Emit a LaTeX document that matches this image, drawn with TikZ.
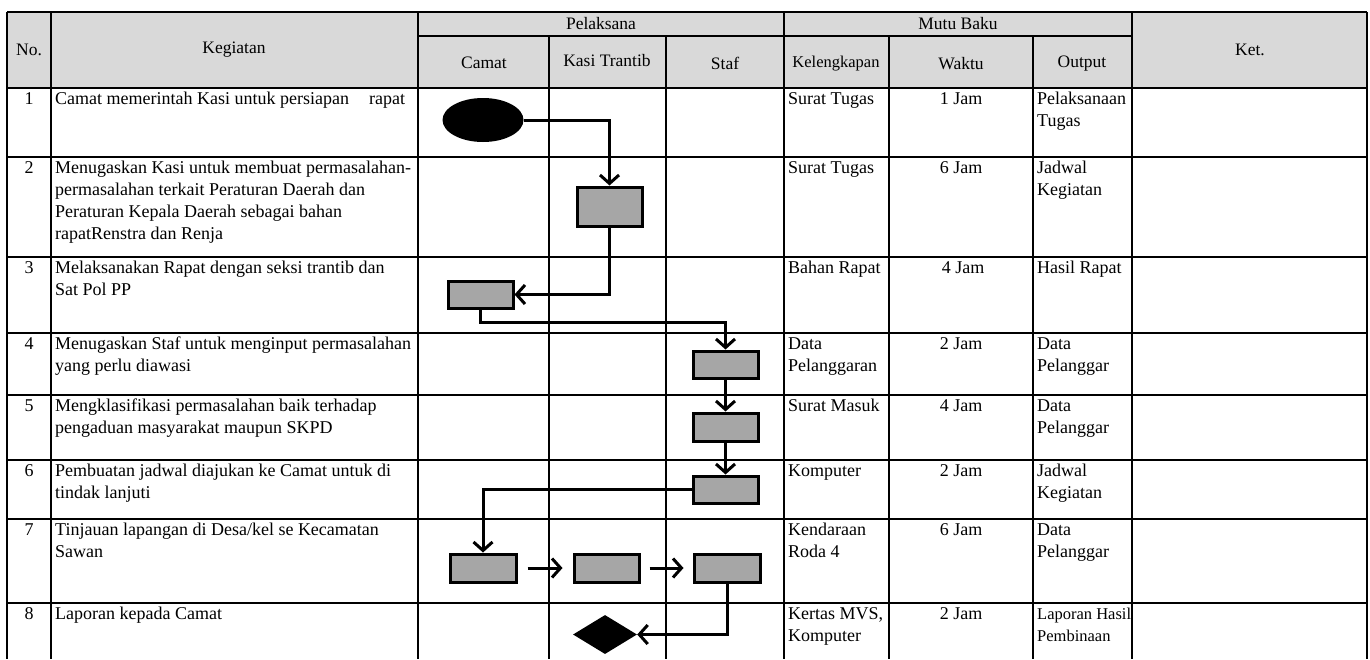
\documentclass[tikz,border=0pt]{standalone}
\usepackage{fontspec}
\setmainfont{Liberation Serif}
\usetikzlibrary{arrows.meta,shapes.geometric}
\tikzset{
  grid/.style={line width=2.1pt},
  cell/.style={inner sep=0pt, anchor=north west, align=left, font=\fontsize{18}{22}\selectfont},
  ccell/.style={inner sep=0pt, anchor=north, align=center, font=\fontsize{18}{22}\selectfont},
  hcell/.style={inner sep=0pt, align=center, font=\fontsize{17.5}{22}\selectfont},
  procbox/.style={draw=black, line width=3pt, fill=boxgray, minimum width=65pt, minimum height=28pt, inner sep=0pt},
  flow/.style={line width=3pt, -{Straight Barb[length=8.5pt,width=19pt]}},
}
\definecolor{boxgray}{HTML}{A6A6A6}
\definecolor{headgray}{HTML}{D9D9D9}
\begin{document}
\begin{tikzpicture}[x=1pt,y=-1pt]
\useasboundingbox (0,0) rectangle (1370,659);
% header background
\fill[headgray] (7,12) rectangle (1367,88);
% grid
\draw[grid] (7,12) -- (1367,12);
\draw[grid] (418,36) -- (1132,36);
\foreach \yy in {88,157,257,333,395,460,519,603} {\draw[grid] (7,\yy) -- (1367,\yy);}
\foreach \xx in {7,51,418,784,1132,1367} {\draw[grid] (\xx,12) -- (\xx,659);}
\foreach \xx in {549,666,889,1033} {\draw[grid] (\xx,36) -- (\xx,659);}
% header texts
\node[hcell] (hno) at (29,50) {No.};
\node[hcell] (hkeg) at (234,50) {Kegiatan};
\node[hcell] (hpel) at (601,24) {Pelaksana};
\node[hcell] (hcam) at (484,63) {Camat};
\node[hcell] (hkas) at (607,61) {Kasi Trantib};
\node[hcell] (hsta) at (725,63) {Staf};
\node[hcell] (hmutu) at (958,24) {Mutu Baku};
\node[hcell, font=\fontsize{16.5}{22}\selectfont] (hkel) at (836,64) {Kelengkapan};
\node[hcell] (hwak) at (961,64) {Waktu};
\node[hcell] (hout) at (1082,64) {Output};
\node[hcell] (hket) at (1250,50) {Ket.};
% rows
\node[ccell] (n1) at (29,89) {\strut 1};
\node[cell] (k1) at (55,89) {\strut Camat memerintah Kasi untuk persiapan\hspace{20pt}rapat};
\node[cell] (l1) at (788,89) {\strut Surat Tugas};
\node[ccell] (w1) at (961,89) {\strut 1 Jam};
\node[cell] (o1) at (1037,89) {\strut Pelaksanaan\\Tugas};

\node[ccell] (n2) at (29,158) {\strut 2};
\node[cell] (k2) at (55,158) {\strut Menugaskan Kasi untuk membuat permasalahan-\\permasalahan terkait Peraturan Daerah dan\\Peraturan Kepala Daerah sebagai bahan\\rapatRenstra dan Renja};
\node[cell] (l2) at (788,158) {\strut Surat Tugas};
\node[ccell] (w2) at (961,158) {\strut 6 Jam};
\node[cell] (o2) at (1037,158) {\strut Jadwal\\Kegiatan};

\node[ccell] (n3) at (29,258) {\strut 3};
\node[cell] (k3) at (55,258) {\strut Melaksanakan Rapat dengan seksi trantib dan\\Sat Pol PP};
\node[cell] (l3) at (788,258) {\strut Bahan Rapat};
\node[ccell] (w3) at (963,258) {\strut 4 Jam};
\node[cell] (o3) at (1037,258) {\strut Hasil Rapat};

\node[ccell] (n4) at (29,334) {\strut 4};
\node[cell] (k4) at (55,334) {\strut Menugaskan Staf untuk menginput permasalahan\\yang perlu diawasi};
\node[cell] (l4) at (788,334) {\strut Data\\Pelanggaran};
\node[ccell] (w4) at (961,334) {\strut 2 Jam};
\node[cell] (o4) at (1037,334) {\strut Data\\Pelanggar};

\node[ccell] (n5) at (29,396) {\strut 5};
\node[cell] (k5) at (55,396) {\strut Mengklasifikasi permasalahan baik terhadap\\pengaduan masyarakat maupun SKPD};
\node[cell] (l5) at (788,396) {\strut Surat Masuk};
\node[ccell] (w5) at (961,396) {\strut 4 Jam};
\node[cell] (o5) at (1037,396) {\strut Data\\Pelanggar};

\node[ccell] (n6) at (29,461) {\strut 6};
\node[cell] (k6) at (55,461) {\strut Pembuatan jadwal diajukan ke Camat untuk di\\tindak lanjuti};
\node[cell] (l6) at (788,461) {\strut Komputer};
\node[ccell] (w6) at (961,461) {\strut 2 Jam};
\node[cell] (o6) at (1037,461) {\strut Jadwal\\Kegiatan};

\node[ccell] (n7) at (29,520) {\strut 7};
\node[cell] (k7) at (55,520) {\strut Tinjauan lapangan di Desa/kel se Kecamatan\\Sawan};
\node[cell] (l7) at (788,520) {\strut Kendaraan\\Roda 4};
\node[ccell] (w7) at (961,520) {\strut 6 Jam};
\node[cell] (o7) at (1037,520) {\strut Data\\Pelanggar};

\node[ccell] (n8) at (29,604) {\strut 8};
\node[cell] (k8) at (55,604) {\strut Laporan kepada Camat};
\node[cell] (l8) at (788,604) {\strut Kertas MVS,\\Komputer};
\node[ccell] (w8) at (961,604) {\strut 2 Jam};
\node[cell, font=\fontsize{16.5}{22}\selectfont] (o8) at (1037,604) {\strut Laporan Hasil\\Pembinaan};

% flowchart shapes
\node[ellipse, fill=black, minimum width=81pt, minimum height=44pt, inner sep=0pt] (start) at (483,120) {};
\node[procbox, minimum height=39pt] (r2) at (609.5,206.5) {};
\node[procbox, minimum height=27pt] (r3) at (480.5,294.5) {};
\node[procbox, minimum height=27pt] (r4) at (725.5,364.5) {};
\node[procbox] (r5) at (725.5,427) {};
\node[procbox, minimum height=27pt] (r6) at (725.5,489.5) {};
\node[procbox, minimum width=66pt] (r7a) at (483,568) {};
\node[procbox] (r7b) at (606.5,568) {};
\node[procbox, minimum width=66pt] (r7c) at (727,568) {};
\node[diamond, fill=black, minimum width=64pt, minimum height=39pt, inner sep=0pt, aspect=1.6] (fin) at (605,634.5) {};
% connectors
\draw[flow] (start.east) -| (r2.north);
\draw[flow] (r2.south) |- (r3.east);
\draw[flow] (r3.south) -- ++(0,13) -| (r4.north);
\draw[flow] (r4.south) -- (r5.north);
\draw[flow] (r5.south) -- (r6.north);
\draw[flow] (r6.west) -| (r7a.north);
\draw[flow, shorten <=10pt, shorten >=10pt] (r7a.east) -- (r7b.west);
\draw[flow, shorten <=9pt, shorten >=9pt] (r7b.east) -- (r7c.west);
\draw[flow] (r7c.south) |- (fin.east);
\end{tikzpicture}
\end{document}
